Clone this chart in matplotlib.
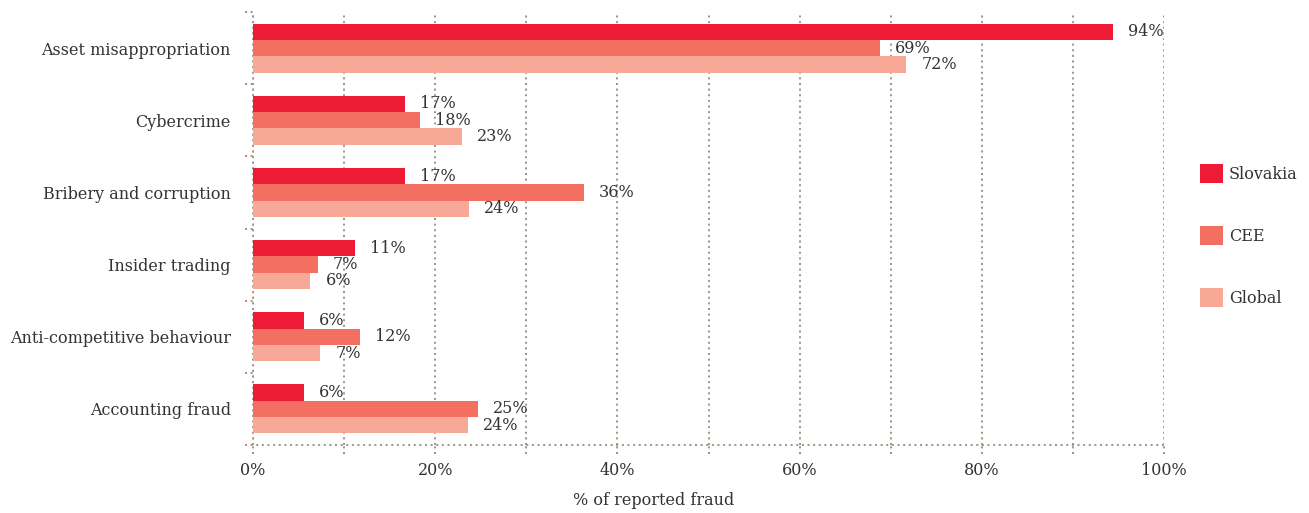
import matplotlib
matplotlib.use("Agg")
import numpy as np
import matplotlib.pyplot as plt
from matplotlib.patches import Patch
from matplotlib.ticker import MultipleLocator, FuncFormatter

categories = ["Asset misappropriation", "Cybercrime", "Bribery and corruption",
              "Insider trading", "Anti-competitive behaviour", "Accounting fraud"]
series = ["Slovakia", "CEE", "Global"]
slovakia = [94.4, 16.7, 16.7, 11.2, 5.6, 5.6]
cee = [68.8, 18.3, 36.3, 7.1, 11.7, 24.7]
global_ = [71.7, 22.9, 23.7, 6.3, 7.4, 23.6]
colors = ["#ed1b35", "#f26f61", "#f8a896"]

grid_col = "#a39789"
text_col = "#333333"
font = "DejaVu Serif"
fs = 11.5

plt.rcParams["font.family"] = font
plt.rcParams["lines.scale_dashes"] = False

fig = plt.figure(figsize=(13.09, 5.13), dpi=100)
ax = fig.add_axes([253 / 1309, 1 - 445 / 513, 911 / 1309, 433 / 513])

y = np.arange(len(categories))
h = 0.227
for k, (vals, col) in enumerate(zip([slovakia, cee, global_], colors)):
    pos = y + (k - 1) * h
    ax.barh(pos, vals, height=h, color=col, zorder=3, linewidth=0)
    for p, v in zip(pos, vals):
        ax.annotate("%d%%" % round(v), (v, p), xytext=(11, 0),
                    textcoords="offset points", va="center", ha="left",
                    fontsize=fs, color=text_col)

ax.set_xlim(0, 100)
ax.set_ylim(len(categories) - 0.5, -0.5)

dots = (0, (1.45, 2.6))
lw = 1.45
ax.xaxis.set_minor_locator(MultipleLocator(10))
ax.xaxis.set_major_locator(MultipleLocator(20))
ax.xaxis.set_major_formatter(FuncFormatter(lambda v, _: "%d%%" % v))
ax.grid(axis="x", which="both", color=grid_col, linestyle=dots, linewidth=lw, zorder=0)
ax.tick_params(axis="x", which="both", length=0, pad=12, labelsize=fs, labelcolor=text_col)

ax.set_yticks(y)
ax.set_yticklabels(categories)
ax.tick_params(axis="y", length=0, pad=16, labelsize=fs, labelcolor=text_col)

for s in ["top", "right", "left", "bottom"]:
    ax.spines[s].set_visible(False)

# dotted axis lines, short ticks at group boundaries and below the x grid
ax.plot([-0.009, 1], [0, 0], transform=ax.transAxes, color=grid_col,
        linestyle=dots, linewidth=lw, clip_on=False)
ax.plot([0, 0], [0, 1], transform=ax.transAxes, color=grid_col,
        linestyle=dots, linewidth=lw, clip_on=False)
ytrans = ax.get_yaxis_transform()
for b in np.arange(len(categories)) - 0.5:
    ax.plot([-0.009, 0], [b, b], transform=ytrans, color=grid_col,
            linestyle=dots, linewidth=lw, clip_on=False)
xtrans = ax.get_xaxis_transform()
for t in range(0, 101, 10):
    ax.plot([t, t], [-0.02, 0], transform=xtrans, color=grid_col,
            linestyle=dots, linewidth=lw, clip_on=False)

ax.set_xlabel("% of reported fraud", fontsize=fs, color=text_col)
ax.xaxis.set_label_coords(0.44, -0.108)

handles = [Patch(facecolor=c, edgecolor="none") for c in colors]
fig.legend(handles, series, loc="upper left", bbox_to_anchor=(1186 / 1309, 1 - 150 / 513),
           frameon=False, fontsize=fs, handlelength=1.4, handleheight=1.4,
           handletextpad=0.4, labelspacing=2.72, labelcolor=text_col)

fig.savefig("out.png", dpi=100)
